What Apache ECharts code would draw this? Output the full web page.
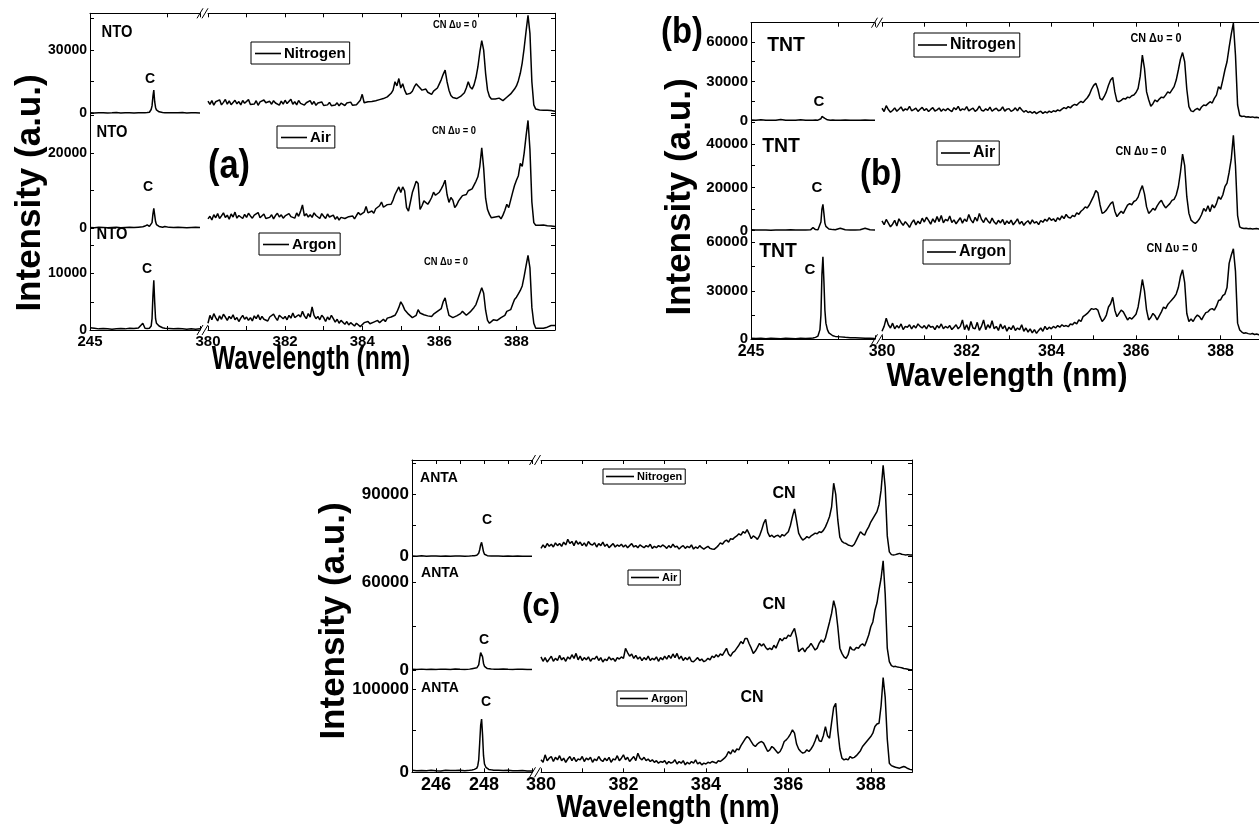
<!DOCTYPE html>
<html><head><meta charset="utf-8">
<script src="https://cdn.jsdelivr.net/npm/echarts@6/dist/echarts.min.js"></script>
<style>html,body{margin:0;padding:0;background:#fff}#c{width:1259px;height:833px}</style>
</head><body><div id="c"></div>
<script>
// ---------------- DATA ----------------
const GASES = ['Nitrogen', 'Air', 'Argon'];
const SAMPLES = ['NTO', 'TNT', 'ANTA'];
const X_RANGE_LEFT = [245, 250];
const X_RANGE_RIGHT = [380, 389];
const X_LABELS_RIGHT = [380, 382, 384, 386, 388];
const X_LABELS_LEFT_NTO = [245];
const X_LABELS_LEFT_TNT = [245];
const X_LABELS_LEFT_ANTA = [246, 248];
const Y_MAX_NTO = [47500, 30600, 18000];
const Y_STEP_NTO = [15000, 10000, 5000];
const Y_LABELS_NTO = [[0, 30000], [0, 20000], [0, 10000]];
const Y_MAX_TNT = [74800, 50800, 67200];
const Y_STEP_TNT = [15000, 10000, 15000];
const Y_LABELS_TNT = [[0, 30000, 60000], [0, 20000, 40000], [0, 30000, 60000]];
const Y_MAX_ANTA = [139500, 77800, 123000];
const Y_STEP_ANTA = [45000, 30000, 50000];
const Y_LABELS_ANTA = [[0, 90000], [0, 60000], [0, 100000]];

// wavelength samples of the C I segment (nm)
const WL_LEFT = [245.0,245.2,245.4,245.6,245.8,246.0,246.2,246.4,246.6,246.8,247.0,247.2,247.4,247.5,247.6,247.7,247.74,247.78,247.82,247.86,247.9,247.94,247.98,248.02,248.08,248.14,248.2,248.3,248.4,248.6,248.8,249.0,249.2,249.4,249.6,249.8,250.0];
// wavelength sampling grid of the CN segment (nm): 380.00 ... 389.00, step 0.05
const WL_RIGHT_START = 380, WL_RIGHT_STEP = 0.05, WL_RIGHT_COUNT = 181;
const WL_RIGHT = Array.from({length: WL_RIGHT_COUNT}, (_, i) => +(WL_RIGHT_START + i * WL_RIGHT_STEP).toFixed(2));

// ----- NTO -----
const NTO_N2_L = [300,200,250,300,200,250,350,200,300,250,200,300,250,300,350,500,800,1800,3500,8000,11000,5500,2800,1600,1000,700,500,400,300,250,300,250,350,200,300,250,200];
const NTO_AIR_L = [200,150,250,200,150,200,250,150,200,250,200,300,400,600,900,500,400,600,1500,3800,5300,3500,1800,1000,700,500,400,300,500,250,200,250,200,150,200,250,200];
const NTO_AR_L = [400,300,200,250,200,150,200,250,200,300,250,350,1200,300,250,300,400,700,2000,6000,8800,5000,2000,1200,900,700,500,400,300,250,200,250,200,150,200,150,200];
const NTO_N2_R = [
5800,4200,6000,3900,5500,4600,6400,4000,5200,6600,4300,5900,4100,5000,6200,4500,5600,4000,6100,4800,
5300,6500,4200,5000,4400,6000,3800,5400,4600,6300,5000,4100,5700,4300,6000,4900,5500,3900,5800,4400,
6200,4600,5100,6700,4300,5500,4000,6100,4700,5300,3900,5000,4400,6000,4200,5600,3800,4900,4100,5400,
3700,4600,4000,5200,3600,4400,3900,5000,3500,4800,4200,3700,4900,4000,5300,3800,4500,4100,5000,6200,
9000,5000,4600,5500,4800,5600,5200,6000,5600,6500,6200,7000,6800,7800,7500,9500,11000,15000,13000,16500,
12000,14000,11000,9000,8500,9500,10500,12500,14000,13000,12000,11000,10500,11500,10000,9500,9000,10500,10000,12000,
14000,16000,18500,20500,15000,11000,8500,7500,7800,7000,7200,8000,8600,9800,12000,15000,12500,11500,13500,17000,
22000,29000,34500,30000,19000,11000,8000,6800,6000,6800,6300,7200,6500,6000,6800,7600,8200,9200,10000,11500,
13000,15500,19000,24000,31000,39000,46500,38000,15000,4000,2000,1800,1600,1700,1500,1600,1400,1500,1300,1400,
1000];
const NTO_AIR_R = [
2500,3200,2200,3600,2800,3900,2600,3300,4100,2900,3500,2400,3800,3000,4300,2700,3400,3100,2600,3700,
2900,4000,3300,2700,3500,3000,4200,2800,3300,3800,2600,3100,2900,3600,2500,3400,4000,3000,3600,2700,
3300,2800,3900,3100,3500,2700,4100,3200,4500,6200,3300,3900,3000,3600,2900,4100,3400,3700,2600,3900,
3200,2600,3800,3000,2500,3500,2400,3100,2200,2900,3400,2600,2300,3100,2700,3300,2500,3400,4200,3600,
3200,4300,5800,4100,3600,4600,4000,5200,4700,6000,7000,5600,5200,6300,6000,6400,7500,9000,8500,11000,
9500,11000,10000,5500,4600,7000,9500,11000,12500,11900,5000,6000,7300,6800,6400,7200,8200,9600,8800,9200,
9600,10500,11500,12800,9000,6900,8200,7500,5500,6200,7300,8000,8700,8200,9000,10000,9600,10500,11500,12500,
13700,16500,21400,16000,8000,5000,3700,2800,2400,3000,2600,3200,2500,3500,4800,6400,5500,7500,9500,11400,
12800,14000,17300,16500,20000,24600,28700,21000,7000,1500,800,900,800,700,900,800,700,800,600,700,
500];
const NTO_AR_R = [
1200,2600,1800,2900,2200,1600,2500,1900,2800,2300,1700,2400,2000,2700,1800,2200,1500,2100,2600,1900,
2300,1700,2200,1600,2500,2000,2700,1800,2400,1900,2100,1600,2300,2000,2800,2200,1700,2600,2900,2000,
2400,1800,2600,2100,3000,2200,1900,2700,2300,3300,2500,2000,2900,2300,4100,2600,2000,2400,1800,2600,
2200,1500,2300,1800,2600,2000,1400,1900,1200,1700,1400,1000,1500,900,1300,1100,700,1200,900,600,
800,1300,1000,1500,1100,900,1400,1200,1700,1300,1600,1900,1500,2100,1800,2300,2000,2600,3200,4000,
5000,4400,3600,3300,2800,2500,2200,2100,2600,3600,3000,3200,2700,2900,2500,2300,2400,2800,3000,3300,
3000,3800,5000,5700,4000,2600,2400,2200,2100,2500,2400,2900,3300,3000,2600,2800,3200,3600,4000,4500,
5500,6500,7500,6500,3500,1700,1200,1400,1800,1600,1700,1900,2200,2000,2600,3300,3000,3600,4500,5400,
5800,6400,7000,7800,9500,11400,13200,11000,4000,1200,300,200,300,200,300,400,500,600,800,700,
800];

// ----- TNT -----
const TNT_N2_L = [500,300,800,300,400,300,900,400,300,400,700,300,400,300,500,400,500,700,1500,3200,4300,3000,1800,1000,700,500,400,600,400,300,500,300,400,300,600,300,400];
const TNT_AIR_L = [400,300,350,300,250,300,350,300,400,300,350,300,400,1400,500,400,600,1200,4000,10000,12200,8000,3500,2000,1200,800,600,500,400,1100,400,350,300,400,1100,400,350];
const TNT_AR_L = [600,500,700,400,600,500,400,600,500,400,600,500,700,800,1200,2000,3000,6000,15000,40000,51000,36000,18000,10000,6000,4000,3000,2200,1800,1500,1200,1000,900,800,700,600,500];
const TNT_N2_R = [
9500,7000,11500,8500,6500,7800,9800,7200,8800,10500,7500,9000,8200,11000,7600,8400,9600,7100,8700,10200,
7800,9200,7000,8600,10000,7400,8300,9700,7200,8900,7600,9400,8100,7000,9900,8500,11000,7700,9000,8300,
10800,7500,8700,9600,7100,8500,11200,8000,7400,9100,7900,10300,7200,8600,9500,7600,8200,10600,7300,8800,
9200,7100,8000,9800,7500,10200,8300,6600,7800,6200,7000,5800,6900,5400,6500,7200,5600,6800,6000,7300,
6400,7600,6900,8200,7500,8800,10000,9200,10800,9800,11500,12500,11800,13500,14800,13800,15800,17500,20000,24000,
27000,28500,24000,17000,15800,18500,22000,27000,31000,33000,22000,15000,14500,15500,17000,16500,18000,17500,19000,19600,
21500,24700,34000,50000,40000,22000,16000,11000,13000,15800,14500,16500,18000,17500,19500,22000,21000,23500,26000,31000,
38700,47000,52000,45000,24000,10700,7500,6900,8500,9400,8000,10500,12000,11500,13000,14500,13500,17000,19500,26000,
24000,31000,38700,45000,56000,66000,74500,50000,12000,4000,3200,3500,2800,3000,2600,2900,2400,2700,2200,2500,
2300];
const TNT_AIR_R = [
4500,2800,5200,3500,1800,3000,4800,2200,5500,3800,2500,4200,3000,1500,3600,5000,2700,4400,3200,5800,
4000,6200,4800,3000,5500,3800,6500,4200,7000,3600,5200,4500,6800,3800,5000,3200,4600,6000,3500,5400,
4200,7500,5000,3600,6200,4400,8000,5200,3800,6000,4500,3400,5800,4000,3000,4800,3600,5200,2800,4500,
3300,4900,2700,4000,5500,3100,4300,2500,3800,4600,3000,5000,3500,4200,2800,4700,3900,5300,4400,6000,
4800,5500,4200,6000,5000,6800,5600,7500,6200,5800,7000,6500,8200,7600,9000,9800,11000,10500,12000,14000,
16000,18500,17500,12000,8000,8500,9500,11000,12500,13400,9000,6500,7800,9000,8000,10000,11800,12500,12000,13500,
14000,15500,18500,20800,17000,11000,8000,9000,10300,9500,11500,13000,14000,12000,10500,11500,12500,14000,14500,16500,
20300,27000,35400,30000,15700,8000,4900,4000,3400,4200,5500,7500,10300,9000,11500,8800,12000,10500,12500,15700,
14500,16500,20300,22000,27000,33000,44000,30000,7000,1800,1200,1000,1100,900,1000,800,900,1000,800,900,
700];
const TNT_AR_R = [
5000,8000,13000,9000,7000,10000,6500,8500,7000,9500,6000,8000,7500,9000,6500,8500,7000,9500,8000,7000,
8500,6500,9000,7500,8000,6000,8500,7000,9500,6500,8000,7000,8500,6000,7500,9000,6500,8000,12000,6000,
9000,5500,11000,7000,6500,10500,5500,8000,12000,6000,9000,7000,11500,6500,8000,5500,9500,6500,8500,5000,
7500,6000,8500,5500,7000,6000,9000,5000,7000,4500,6500,4000,6000,3700,5500,7000,5000,8000,6000,7500,
6500,8000,7000,8500,7500,9000,8000,8500,7800,9500,9000,10500,9500,12000,11000,14000,15000,16000,17500,19000,
18500,19000,18000,14000,11000,12500,15000,20000,22000,26000,18000,14000,16000,18000,17000,14500,12000,13500,12500,14000,
15500,20000,28000,37000,30000,18000,12000,13500,16000,14500,12000,14500,17000,20000,19000,21500,23000,24500,26000,28000,
32000,39000,43000,35000,16000,11000,12500,11000,13500,15000,14000,12000,14500,16500,17000,18500,19000,18000,20500,24000,
24500,27000,28000,32000,47000,52000,56000,42000,10000,5800,4500,3700,4000,3500,3200,3600,3000,3300,2800,3100,
2800];

// ----- ANTA -----
const ANTA_N2_L = [1000,800,1200,700,1000,900,700,1100,800,1000,900,700,1000,1200,1500,2000,3000,5000,10000,17000,20700,14000,7000,3500,2000,1500,1200,1000,900,1100,800,1000,700,900,800,600,700];
const ANTA_AIR_L = [500,400,600,300,500,400,600,500,400,700,500,400,600,900,1200,1500,2000,3500,8000,12000,13300,9000,4500,2500,1500,1000,800,700,600,500,700,500,400,600,500,400,300];
const ANTA_AR_L = [2500,2000,2200,1800,2400,2000,1700,2600,2100,2300,2500,2000,2400,2800,3500,5000,8000,15000,35000,56000,64000,45000,20000,10000,6000,4500,3500,3000,2600,2400,2200,2500,2000,1800,2200,1600,1500];
const ANTA_N2_R = [
12000,17000,13000,19000,15000,18000,14000,20000,16000,19000,15000,21000,17000,25000,19000,22000,16000,23000,18000,21000,
16000,20000,15000,22000,18000,17000,20000,14000,19000,16000,21000,15000,18000,13000,16000,19000,14000,17000,15000,18000,
14000,17000,13000,16000,19000,14000,16000,13000,17000,15000,13000,16000,14000,18000,12000,15000,13000,16000,14000,17000,
15000,12000,16000,13000,18000,14000,15000,11000,14000,16000,12000,15000,13000,17000,11000,14000,12000,16000,13000,11000,
13000,15000,12000,11000,10600,13000,16000,20000,18000,22000,24000,21000,26000,25000,28000,30000,33000,31000,36000,34000,
39000,33000,26000,30000,28000,25000,30000,38000,48000,54000,35000,29000,31000,28000,30000,31000,28000,32000,30000,33000,
36000,45000,58000,69000,52000,34000,28000,24000,26000,29000,27000,30000,32000,34000,33000,36000,35000,38000,43000,50000,
58000,72000,106000,90000,53000,28000,22000,20000,19000,17000,16000,15000,18000,24000,30000,36000,33000,31000,38000,43000,
50000,55000,60000,65000,75000,96000,132000,100000,30000,7000,3000,2400,3000,4000,4800,3500,3000,2500,3000,2400,
2400];
const ANTA_AIR_R = [
9000,6000,8500,5500,7500,9500,6000,8000,6500,10000,7000,8500,6000,9000,7500,10500,8000,11400,7000,9500,
6500,8500,7000,9000,6000,8000,7500,9500,6500,8500,5500,7500,6500,9000,7000,8000,6000,8500,7500,9000,
8000,14900,12000,9500,11000,8000,10000,7500,9000,6500,8500,7000,9500,6500,8000,7000,9000,6000,8500,7000,
9500,7500,10000,8000,11000,8500,11400,7500,9500,6500,8500,7000,9000,6000,5700,7000,8500,6500,7500,5700,
6500,8000,7000,9500,8500,10500,9000,11000,10000,12500,14900,11000,9500,12000,13000,15000,17000,19500,18000,21700,
21700,18000,15000,11400,13000,15500,18300,16500,18000,15500,14000,15000,14000,17000,15000,18500,21700,20000,22000,21700,
24000,23000,26000,28600,22000,12600,14000,15000,12500,14900,16000,18300,16000,13700,15000,18500,20600,19000,22000,27500,
33000,39000,47600,42000,29700,15000,11400,9000,8000,10500,16000,14000,13700,15500,14900,17000,18000,16500,20000,24000,
29700,33000,41000,46000,55000,63000,75000,52000,15000,5700,3000,2300,2500,2000,1800,1500,1000,800,500,200,
200];
const ANTA_AR_R = [
15000,12000,21000,14000,17000,19000,13000,18000,15000,20000,14000,17000,12000,16000,19000,14000,18000,13000,16000,15000,
19000,13000,17000,15000,18000,12000,16000,14000,19000,15000,13000,17000,14000,18000,12000,16000,15000,20000,14000,17000,
21000,15000,18000,13000,16000,19000,14000,23000,17000,15000,18000,14000,16000,13000,15000,12000,14000,11000,13000,12000,
14000,10000,13000,11000,12000,15000,10000,13000,11000,14000,9000,12000,10000,13000,11000,15000,10000,12000,9000,11000,
10000,12000,11000,13000,12000,11000,14000,13000,15000,17000,20000,25000,22000,27000,24000,28000,27000,32000,36000,40000,
43000,41000,37000,33000,31000,34000,36000,37000,35000,30000,25000,27000,31000,29000,26000,23000,25000,30000,37000,39000,
42000,46000,51000,47000,34000,28000,25000,23000,24000,27000,25000,28000,32000,38000,45000,38000,37000,44000,55000,44000,
41000,60000,78000,83000,50000,28000,17000,15000,16000,15000,19000,17000,18000,20000,23000,26000,31000,34000,37000,40000,
43000,47000,55000,58000,59000,80000,114000,90000,40000,11000,8000,7000,6000,5500,5000,6000,7000,6000,4500,3500,
3000];

// ---------------- LAYOUT / STYLE ----------------
const FONT = '"Liberation Sans", Arial, Helvetica, sans-serif';
const LAYOUT_A = { xl: [90, 200], xr: [208, 555], ys: [13.3, 113.3, 228.3, 330], fy: 14, fx: 15 };
const LAYOUT_B = { xl: [751, 875], xr: [882, 1263], ys: [22.7, 120.7, 230.7, 339.3], fy: 15, fx: 16 };
const LAYOUT_C = { xl: [412, 532], xr: [541, 912], ys: [460, 556.7, 670, 772.3], fy: 17, fx: 18 };

const PANELS = [
  { sample: SAMPLES[0], L: LAYOUT_A, left: [NTO_N2_L, NTO_AIR_L, NTO_AR_L], right: [NTO_N2_R, NTO_AIR_R, NTO_AR_R],
    yMax: Y_MAX_NTO, yStep: Y_STEP_NTO, yLabels: Y_LABELS_NTO, leftStep: 3.5, leftLabels: X_LABELS_LEFT_NTO },
  { sample: SAMPLES[1], L: LAYOUT_B, left: [TNT_N2_L, TNT_AIR_L, TNT_AR_L], right: [TNT_N2_R, TNT_AIR_R, TNT_AR_R],
    yMax: Y_MAX_TNT, yStep: Y_STEP_TNT, yLabels: Y_LABELS_TNT, leftStep: 3.5, leftLabels: X_LABELS_LEFT_TNT },
  { sample: SAMPLES[2], L: LAYOUT_C, left: [ANTA_N2_L, ANTA_AIR_L, ANTA_AR_L], right: [ANTA_N2_R, ANTA_AIR_R, ANTA_AR_R],
    yMax: Y_MAX_ANTA, yStep: Y_STEP_ANTA, yLabels: Y_LABELS_ANTA, leftStep: 1, leftLabels: X_LABELS_LEFT_ANTA }
];

// legends: [left, top] per row, font size, icon width, padding
const LEGENDS = [
  { pos: [[251, 42], [277, 126], [259, 233]], fs: 15, iw: 26, pad: [4, 4, 3, 4] },
  { pos: [[914, 33], [937, 141], [923, 240]], fs: 16, iw: 29, pad: [4, 4, 4, 4] },
  { pos: [[603, 469], [628, 570], [617, 691]], fs: 11, iw: 28, pad: [2, 3, 2, 3] }
];

// annotations: [text, x, y, fontSize, scaleX, rotationDeg]
const ANNOTATIONS = [
  ['NTO', 117, 33, 16, 0.92, 0], ['NTO', 112, 133, 16, 0.92, 0], ['NTO', 112, 235, 16, 0.92, 0],
  ['C', 150, 79, 14, 1, 0], ['C', 148, 187, 14, 1, 0], ['C', 147, 269, 14, 1, 0],
  ['CN Δυ = 0', 455, 25, 11, 0.85, 0], ['CN Δυ = 0', 454, 131, 11, 0.85, 0], ['CN Δυ = 0', 446, 262, 11, 0.85, 0],
  ['(a)', 229, 167, 40, 0.86, 0],
  ['Wavelength (nm)', 311, 360, 33, 0.75, 0],
  ['Intensity (a.u.)', 30, 193, 35, 1, 90],
  ['TNT', 786, 45, 20, 0.97, 0], ['TNT', 781, 146, 20, 0.97, 0], ['TNT', 778, 251, 20, 0.97, 0],
  ['C', 819, 102, 15, 1, 0], ['C', 817, 188, 15, 1, 0], ['C', 810, 270, 15, 1, 0],
  ['CN Δυ = 0', 1156, 39, 12, 0.9, 0], ['CN Δυ = 0', 1141, 152, 12, 0.9, 0], ['CN Δυ = 0', 1172, 249, 12, 0.9, 0],
  ['(b)', 682, 33, 36, 0.91, 0], ['(b)', 881, 175, 36, 0.91, 0],
  ['Wavelength (nm)', 1007, 377, 33, 0.91, 0],
  ['Intensity (a.u.)', 680, 197, 35, 1, 90],
  ['ANTA', 439, 478, 14, 1, 0], ['ANTA', 440, 573, 14, 1, 0], ['ANTA', 440, 688, 14, 1, 0],
  ['C', 487, 520, 14, 1, 0], ['C', 484, 640, 14, 1, 0], ['C', 486, 702, 14, 1, 0],
  ['CN', 784, 494, 16, 1, 0], ['CN', 774, 605, 16, 1, 0], ['CN', 752, 698, 16, 1, 0],
  ['(c)', 541, 607, 34, 0.92, 0],
  ['Wavelength (nm)', 668, 808, 32, 0.87, 0],
  ['Intensity (a.u.)', 334, 621, 35, 1, 90]
];

// ---------------- BUILD ----------------
const grids = [], xAxes = [], yAxes = [], series = [], legends = [], gfx = [];
const inList = (list, v) => list.some(t => Math.abs(t - v) < 1e-6);

PANELS.forEach((P, p) => {
  const L = P.L;
  for (let r = 0; r < 3; r++) {
    for (let s = 0; s < 2; s++) {
      const gi = grids.length;
      const xr = s === 0 ? L.xl : L.xr;
      grids.push({ left: xr[0], top: L.ys[r], width: xr[1] - xr[0], height: L.ys[r + 1] - L.ys[r],
                   containLabel: false, outerBoundsMode: 'none' });
      const isTop = r === 0, isBottom = r === 2;
      const xLabels = s === 0 ? P.leftLabels : X_LABELS_RIGHT;
      const range = s === 0 ? X_RANGE_LEFT : X_RANGE_RIGHT;
      xAxes.push({
        type: 'value', gridIndex: gi, min: range[0], max: range[1],
        interval: s === 0 ? P.leftStep : 1,
        position: isTop ? 'top' : 'bottom',
        axisLine: { show: isTop || isBottom, onZero: false, lineStyle: { color: '#000', width: 1 } },
        axisTick: { show: isTop || isBottom, inside: true, length: 4, lineStyle: { color: '#000', width: 1 } },
        axisLabel: { show: isBottom, margin: 4, color: '#000', fontSize: L.fx, fontWeight: 'bold', fontFamily: FONT,
                     formatter: v => inList(xLabels, v) ? String(Math.round(v)) : '' },
        splitLine: { show: false }
      });
      yAxes.push({
        type: 'value', gridIndex: gi, min: 0, max: P.yMax[r], interval: P.yStep[r],
        position: s === 0 ? 'left' : 'right',
        axisLine: { show: true, onZero: false, lineStyle: { color: '#000', width: 1 } },
        axisTick: { show: true, inside: true, length: 4, lineStyle: { color: '#000', width: 1 } },
        axisLabel: { show: s === 0, margin: 3, color: '#000', fontSize: L.fy, fontWeight: 'bold', fontFamily: FONT,
                     formatter: v => inList(P.yLabels[r], v) ? String(v) : '' },
        splitLine: { show: false }
      });
      const ys = s === 0 ? P.left[r] : P.right[r];
      const xs = s === 0 ? WL_LEFT : WL_RIGHT;
      series.push({
        type: 'line', name: GASES[r], xAxisIndex: gi, yAxisIndex: gi,
        data: xs.map((x, i) => [x, ys[i]]),
        showSymbol: false, symbol: 'none', smooth: false,
        lineStyle: { color: '#000', width: 1.5 }, itemStyle: { color: '#000' },
        emphasis: { disabled: true }, silent: true, animation: false
      });
    }
    const lg = LEGENDS[p];
    legends.push({
      data: [GASES[r]], left: lg.pos[r][0], top: lg.pos[r][1], orient: 'horizontal',
      icon: 'rect', itemWidth: lg.iw, itemHeight: 1.6, padding: lg.pad, itemGap: 0,
      itemStyle: { color: '#000' },
      borderColor: '#000', borderWidth: 1, backgroundColor: '#fff', selectedMode: false,
      textStyle: { color: '#000', fontSize: lg.fs, fontWeight: 'bold', fontFamily: FONT, padding: [0, 0, 0, -2] }
    });
  }
  // axis break marks "//" on top and bottom frame
  const cx = (L.xl[1] + L.xr[0]) / 2;
  [L.ys[0], L.ys[3]].forEach(y => {
    [0, 5].forEach(dx => {
      gfx.push({ type: 'line', z: 60, shape: { x1: cx - 7 + dx, y1: y + 5, x2: cx - 1 + dx, y2: y - 5 },
                 style: { stroke: '#000', lineWidth: 1 } });
    });
  });
});

ANNOTATIONS.forEach(a => {
  gfx.push({
    type: 'text', x: a[1], y: a[2], scaleX: a[4], rotation: a[5] * Math.PI / 180, z: 50,
    style: { text: a[0], fill: '#000', fontSize: a[3], fontWeight: 'bold', fontFamily: FONT,
             textAlign: 'center', align: 'center', textVerticalAlign: 'middle', verticalAlign: 'middle' }
  });
});
// the lower edge of panel (b)'s axis title is cropped in the source figure
gfx.push({ type: 'rect', z: 100, shape: { x: 870, y: 392, width: 280, height: 14 }, style: { fill: '#fff' } });

const chart = echarts.init(document.getElementById('c'), null, { renderer: 'canvas', width: 1259, height: 833 });
chart.setOption({
  backgroundColor: '#fff',
  animation: false,
  grid: grids, xAxis: xAxes, yAxis: yAxes, series: series, legend: legends,
  graphic: { elements: gfx }
});
</script>
</body></html>
